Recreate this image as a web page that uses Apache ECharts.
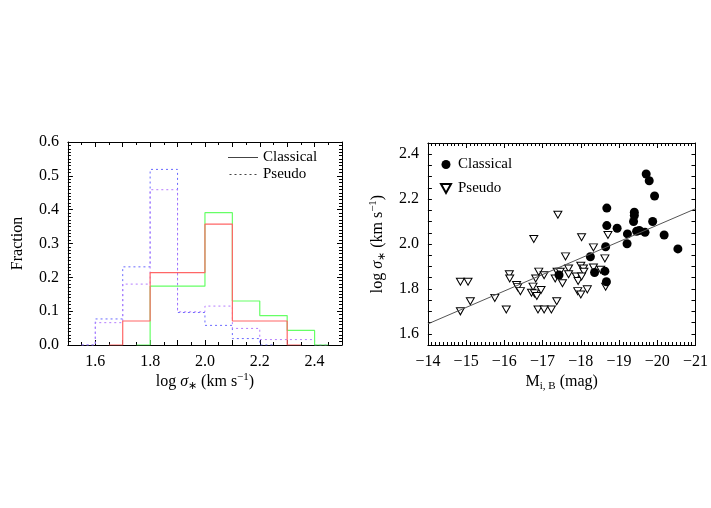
<!DOCTYPE html>
<html>
<head>
<meta charset="utf-8">
<script src="https://cdn.jsdelivr.net/npm/echarts@6/dist/echarts.min.js"></script>
<style>
  html, body { margin: 0; padding: 0; background: #fff; }
  #wrap { position: relative; width: 711px; height: 508px; overflow: hidden; }
  #hist { position: absolute; left: 0; top: 0; width: 360px; height: 508px; }
  #scat { position: absolute; left: 360px; top: 0; width: 351px; height: 508px; }
</style>
</head>
<body>
<div id="wrap">
  <div id="hist"></div>
  <div id="scat"></div>
</div>
<script>
// histogram bins (centres) and fractions, left panel
const classicalCentersA = [1.65, 1.75, 1.85, 1.95, 2.05, 2.15, 2.25, 2.35];
const classicalFracA = [0, 0.071, 0.214, 0.214, 0.357, 0.071, 0.071, 0];
const classicalCentersB = [1.75, 1.85, 1.95, 2.05, 2.15, 2.25, 2.35, 2.45];
const classicalFracB = [0, 0.174, 0.174, 0.391, 0.130, 0.087, 0.043, 0];
const pseudoCentersA = [1.55, 1.65, 1.75, 1.85, 1.95, 2.05, 2.15, 2.25];
const pseudoFracA = [0, 0.077, 0.231, 0.519, 0.096, 0.058, 0.019, 0];
const pseudoCentersB = [1.55, 1.65, 1.75, 1.85, 1.95, 2.05, 2.15, 2.25, 2.35, 2.45];
const pseudoFracB = [0, 0.066, 0.180, 0.459, 0.098, 0.115, 0.049, 0.016, 0.016, 0];

// right panel: absolute magnitude vs log sigma
const classicalMag = [-17.43, -18.25, -18.36, -18.63, -18.65, -18.68, -18.68, -18.67, -18.95, -19.22,
  -19.21, -19.40, -19.40, -19.38, -19.46, -19.53, -19.68, -19.71, -19.79, -19.88, -19.93, -20.18, -20.54];
const classicalSigma = [1.862, 1.943, 1.873, 1.879, 1.988, 2.160, 2.082, 1.832, 2.070, 2.045,
  2.001, 2.142, 2.127, 2.100, 2.057, 2.060, 2.052, 2.312, 2.282, 2.100, 2.214, 2.040, 1.978];
const pseudoMag = [-14.85, -15.05, -14.85, -15.11, -15.75, -16.05, -16.13, -16.14, -16.32, -16.35,
  -16.42, -16.77, -16.71, -16.75, -16.82, -16.79, -16.85, -16.90, -16.96, -16.88,
  -17.04, -17.04, -17.23, -17.33, -17.37, -17.40, -17.38, -17.46, -17.52, -17.60,
  -17.68, -17.68, -17.88, -17.93, -17.92, -18.00, -18.00, -18.07, -18.08, -18.02,
  -18.02, -18.17, -18.33, -18.33, -18.52, -18.63, -18.65, -18.71];
const pseudoSigma = [1.832, 1.832, 1.700, 1.745, 1.760, 1.708, 1.865, 1.846, 1.817, 1.808,
  1.790, 2.022, 1.783, 1.810, 1.846, 1.780, 1.768, 1.877, 1.795, 1.708,
  1.708, 1.861, 1.708, 1.846, 1.745, 2.130, 1.876, 1.876, 1.825, 1.945,
  1.891, 1.865, 1.855, 1.835, 1.790, 1.775, 1.903, 1.891, 1.876, 1.855,
  2.030, 1.798, 1.985, 1.895, 1.885, 1.936, 1.810, 2.040];
const fitMag = [-14, -21];
const fitSigma = [1.644, 2.157];

const histTicks = [1.6, 1.8, 2.0, 2.2, 2.4];
const sigmaTicks = [1.6, 1.8, 2.0, 2.2, 2.4];

const FONT = 'Liberation Serif';
const BLACK = '#000';

// IDL psym=10 style step line from bin centres
function stepLine(centers, vals) {
  const pts = [];
  const n = centers.length;
  for (let i = 0; i < n; i++) {
    const l = i === 0 ? centers[0] : (centers[i - 1] + centers[i]) / 2;
    const r = i === n - 1 ? centers[n - 1] : (centers[i] + centers[i + 1]) / 2;
    pts.push([l, vals[i]], [r, vals[i]]);
  }
  return pts;
}

// magnitudes grow brighter to the right, so plot -M and label with a minus
function magPoints(mags, sig) {
  return mags.map((m, i) => [-m, sig[i]]);
}

function onlyMajors(list) {
  return v => (list.some(t => Math.abs(t - v) < 1e-6) ? v.toFixed(1) : '');
}

const nameStyle = {
  color: BLACK, fontFamily: FONT, fontSize: 16, lineHeight: 20,
  rich: {
    it: {fontFamily: FONT, fontSize: 16, fontStyle: 'italic', color: BLACK},
    sub: {fontFamily: FONT, fontSize: 11, verticalAlign: 'bottom', color: BLACK},
    sup: {fontFamily: FONT, fontSize: 11, verticalAlign: 'top', color: BLACK}
  }
};

// framed axis with IDL style inward ticks
function frameAxis(pos, min, max, step, tickLen, minorSplit, fmt, name, nameGap) {
  const a = {
    gridIndex: 0, type: 'value', position: pos, min: min, max: max, interval: step,
    axisLine: {show: true, onZero: false, lineStyle: {color: BLACK, width: 1}},
    axisTick: {show: true, inside: true, length: tickLen, lineStyle: {color: BLACK, width: 1}},
    axisLabel: fmt ? {show: true, formatter: fmt, color: BLACK, fontFamily: FONT, fontSize: 16, margin: 9}
      : {show: false},
    splitLine: {show: false}
  };
  if (minorSplit) {
    a.minorTick = {show: true, splitNumber: minorSplit, length: 3, lineStyle: {color: BLACK, width: 1}};
  }
  if (name) {
    a.name = name;
    a.nameLocation = 'middle';
    a.nameGap = nameGap;
    a.nameTextStyle = nameStyle;
  }
  return a;
}

const sigmaName = 'log {it|σ}{sub|∗} (km s{sup|−1})';

const lineIcon = 'path://M0,0h30v1h-30z';
const dotIcon = 'path://M0,0h2v1h-2zM5,0h2v1h-2zM10,0h2v1h-2zM15,0h2v1h-2zM20,0h2v1h-2zM25,0h2v1h-2z';
const triIcon = 'path://M0,0 L10,0 L5,9 Z';

// left panel: histograms
const hist = echarts.init(document.getElementById('hist'));
hist.setOption({
  animation: false,
  grid: {left: 57, top: 142, width: 285, height: 203},
  xAxis: [
    frameAxis('bottom', 1.5, 2.5, 0.1, 5, 2, onlyMajors(histTicks), sigmaName, 27),
    frameAxis('top', 1.5, 2.5, 0.1, 5, 2, null)
  ],
  yAxis: [
    frameAxis('left', 0, 0.6, 0.1, 5, 10, v => v.toFixed(1), 'Fraction', 36),
    frameAxis('right', 0, 0.6, 0.1, 5, 10, null)
  ],
  legend: {
    orient: 'vertical', left: 223, top: 145, itemWidth: 30, itemHeight: 1, itemGap: 2,
    textStyle: {fontFamily: FONT, fontSize: 15, color: BLACK},
    data: [{name: 'Classical', icon: lineIcon}, {name: 'Pseudo', icon: dotIcon}],
    selectedMode: false
  },
  series: [
    {
      type: 'line', xAxisIndex: 0, yAxisIndex: 0, symbol: 'none', silent: true,
      lineStyle: {color: '#6a6aff', width: 1, type: [2, 3]},
      data: stepLine(pseudoCentersA, pseudoFracA)
    },
    {
      type: 'line', xAxisIndex: 1, yAxisIndex: 1, symbol: 'none', silent: true,
      lineStyle: {color: '#b57cff', width: 1, type: [2, 3]},
      data: stepLine(pseudoCentersB, pseudoFracB)
    },
    {
      type: 'line', xAxisIndex: 1, yAxisIndex: 1, symbol: 'none', silent: true,
      lineStyle: {color: '#66ff66', width: 1.2},
      data: stepLine(classicalCentersB, classicalFracB)
    },
    {
      type: 'line', xAxisIndex: 0, yAxisIndex: 0, symbol: 'none', silent: true,
      lineStyle: {color: '#ff6666', width: 1.2},
      data: stepLine(classicalCentersA, classicalFracA)
    },
    {name: 'Classical', type: 'line', xAxisIndex: 0, yAxisIndex: 0, symbol: 'none',
      lineStyle: {color: BLACK, width: 1}, itemStyle: {color: '#444'}, data: []},
    {name: 'Pseudo', type: 'line', xAxisIndex: 0, yAxisIndex: 0, symbol: 'none',
      lineStyle: {color: BLACK, width: 1, type: [2, 3]}, itemStyle: {color: '#444'}, data: []}
  ]
});

// right panel: sigma vs magnitude
const scat = echarts.init(document.getElementById('scat'));
scat.setOption({
  animation: false,
  grid: {left: 63, top: 143, width: 280, height: 202},
  xAxis: [
    frameAxis('bottom', 14, 21, 1, 5, 10, v => '−' + v, 'M{sub|i, B} (mag)', 27),
    frameAxis('top', 14, 21, 1, 5, 10, null)
  ],
  yAxis: [
    frameAxis('left', 1.55, 2.45, 0.05, 4, 0, onlyMajors(sigmaTicks), sigmaName, 36),
    frameAxis('right', 1.55, 2.45, 0.05, 4, 0, null)
  ],
  legend: {
    orient: 'vertical', left: 75, top: 152, itemWidth: 14, itemHeight: 9, itemGap: 9,
    textStyle: {fontFamily: FONT, fontSize: 15, color: BLACK},
    data: ['Classical', 'Pseudo'], selectedMode: false
  },
  series: [
    {
      type: 'line', xAxisIndex: 0, yAxisIndex: 0, symbol: 'none', silent: true,
      lineStyle: {color: '#555', width: 1},
      data: magPoints(fitMag, fitSigma)
    },
    {
      name: 'Pseudo', type: 'scatter', xAxisIndex: 0, yAxisIndex: 0,
      symbol: triIcon, symbolSize: [8, 7],
      itemStyle: {color: '#fff', borderColor: BLACK, borderWidth: 1, opacity: 1},
      data: magPoints(pseudoMag, pseudoSigma)
    },
    {
      name: 'Classical', type: 'scatter', xAxisIndex: 1, yAxisIndex: 1,
      symbol: 'circle', symbolSize: 9,
      itemStyle: {color: BLACK, opacity: 1},
      data: magPoints(classicalMag, classicalSigma)
    }
  ]
});
</script>
</body>
</html>
